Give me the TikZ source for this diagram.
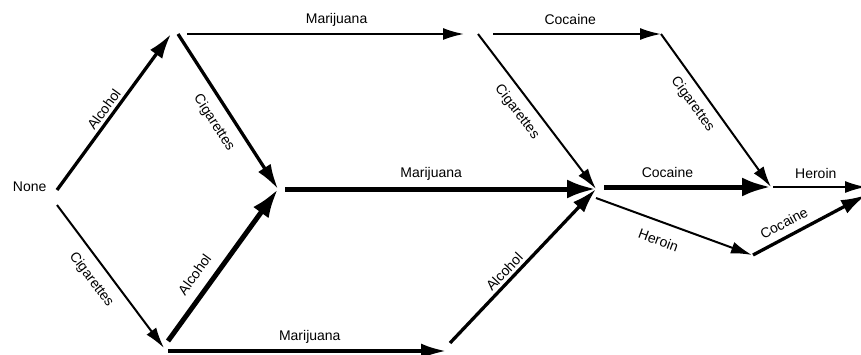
\documentclass[tikz,border=0pt]{standalone}
\usepackage{fontspec}
\setmainfont{Liberation Sans}
\usetikzlibrary{arrows.meta}

\begin{document}
\begin{tikzpicture}[x=1pt,y=1pt,
    every node/.style={font=\fontsize{14}{16}\selectfont},
    thin/.style={line width=2pt,-{Latex[length=21pt,width=12pt]}},
    mid/.style={line width=3.3pt,-{Latex[length=25pt,width=15pt]}},
    heavy/.style={line width=5pt,-{Latex[length=29pt,width=19pt]}},
    lbl/.style={sloped,inner sep=0pt,text height=10pt,text depth=3pt}]
  \useasboundingbox (0,0) rectangle (861,354);
  % states: arrow tips meet here
  \node[anchor=east] (none) at (50,167) {None};
  \foreach \n/\x/\y in {A/171/320, C/164/6, AC/278/165, AM/464/320, CM/446/3,
      ACM/596/165, AMC/661/320, ACMC/771/167, ACMH/752/99, end/866/167}
    \coordinate (\n) at (\x,\y);
  % first substance
  \draw[mid]   ([shift={(7,-3)}]none.east)  -- node[lbl,pos=.48,above=0pt]{Alcohol} (A);
  \draw[thin]  ([shift={(7,-18)}]none.east) -- node[lbl,pos=.45,below=10pt]{Cigarettes} (C);
  % second substance
  \draw[mid]   ([xshift=7]A)  -- node[lbl,pos=.51,below=10pt]{Cigarettes} (AC);
  \draw[thin]  ([xshift=16]A) -- node[lbl,pos=.54,above=6pt]{Marijuana} (AM);
  \draw[heavy] ([shift={(4,7)}]C)  -- node[lbl,pos=.37,above=7pt]{Alcohol} (AC);
  \draw[mid]   ([shift={(4,-3)}]C) -- node[lbl,pos=.51,above=6pt]{Marijuana} (CM);
  % third substance
  \draw[heavy] ([xshift=7]AC)  -- node[lbl,pos=.47,above=6pt]{Marijuana} (ACM);
  \draw[thin]  ([xshift=14]AM) -- node[lbl,pos=.44,below=9pt]{Cigarettes} (ACM);
  \draw[thin]  ([xshift=29]AM) -- node[lbl,pos=.46,above=5pt]{Cocaine} (AMC);
  \draw[mid]   ([shift={(4,8)}]CM) -- node[lbl,pos=.42,above=0pt]{Alcohol} (ACM);
  % hard drugs
  \draw[heavy] ([shift={(8,2)}]ACM)  -- node[lbl,pos=.38,above=4pt]{Cocaine} (ACMC);
  \draw[thin]  ([shift={(0,-9)}]ACM) -- node[lbl,pos=.44,below=12pt]{Heroin} (ACMH);
  \draw[thin]  (AMC) -- node[lbl,pos=.40,below=8pt]{Cigarettes} (ACMC);
  \draw[thin]  ([xshift=2]ACMC) -- node[lbl,pos=.46,above=5pt]{Heroin} (end);
  \draw[mid]   ([xshift=1]ACMH) -- node[lbl,pos=.33,above=4pt]{Cocaine} ([yshift=-8]end);
\end{tikzpicture}
\end{document}
